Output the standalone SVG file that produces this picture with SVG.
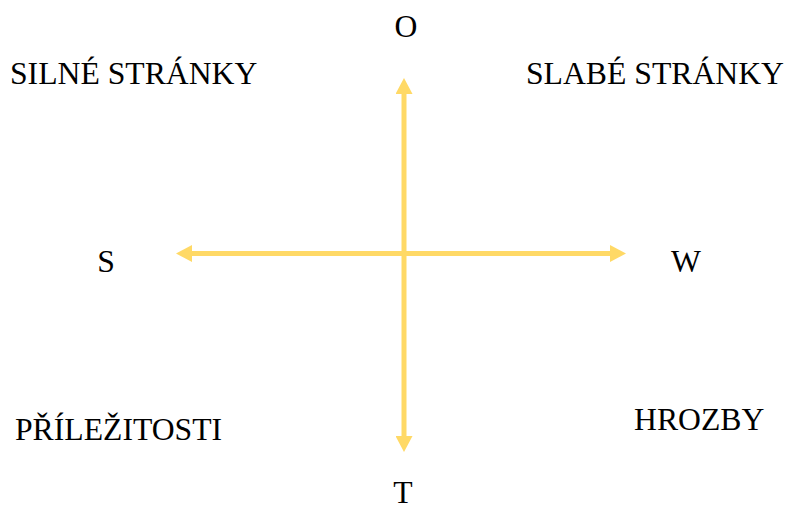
<svg xmlns="http://www.w3.org/2000/svg" width="787" height="510" viewBox="0 0 787 510">
<style>
text{font-family:"Liberation Serif","Times New Roman",serif;font-size:31.7px;fill:#000}
.ax{stroke:#FFD966;stroke-width:5;fill:none}
</style>
<defs>
<marker id="ah" viewBox="0 0 16 17" refX="1" refY="8.5" markerWidth="16" markerHeight="17" markerUnits="userSpaceOnUse" orient="auto-start-reverse">
<path d="M0,0 L16,8.5 L0,17 Z" fill="#FFD966"/>
</marker>
</defs>
<rect width="787" height="510" fill="#fff"/>
<g id="connectors">
<line class="ax" x1="404" y1="93" x2="404" y2="437" marker-start="url(#ah)" marker-end="url(#ah)"/>
<line class="ax" x1="191" y1="253.5" x2="611" y2="253.5" marker-start="url(#ah)" marker-end="url(#ah)"/>
</g>
<g id="label-O"><text x="406" y="37" text-anchor="middle">O</text></g>
<g id="label-T"><text x="403" y="503" text-anchor="middle">T</text></g>
<g id="label-S"><text x="106" y="272" text-anchor="middle">S</text></g>
<g id="label-W"><text x="686" y="272" text-anchor="middle">W</text></g>
<g id="silne"><text x="10" y="84">SILNÉ STRÁNKY</text></g>
<g id="slabe"><text x="526" y="84">SLABÉ STRÁNKY</text></g>
<g id="prilezitosti"><text x="15" y="440">PŘÍLEŽITOSTI</text></g>
<g id="hrozby"><text x="634" y="430">HROZBY</text></g>
</svg>
